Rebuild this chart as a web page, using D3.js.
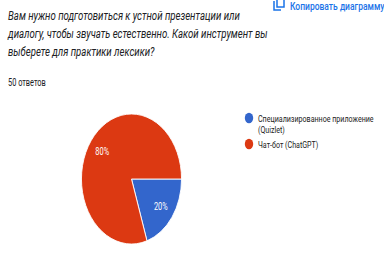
<!DOCTYPE html>
<html>
<head>
<meta charset="utf-8">
<script src="https://cdn.jsdelivr.net/npm/d3@7"></script>
<style>
  body { margin: 0; background: #fff; }
  text { font-family: Roboto, "Noto Sans", sans-serif; }
</style>
</head>
<body>
<div id="chart-area"></div>
<script>
// data
const titleLines = [
  'Вам нужно подготовиться к устной презентации или',
  'диалогу, чтобы звучать естественно. Какой инструмент вы',
  'выберете для практики лексики?'
];
const responsesLabel = '50 ответов';
const copyLabel = 'Копировать диаграмму';
const categories = ['Специализированное приложение (Quizlet)', 'Чат-бот (ChatGPT)'];
const legendLines = [['Специализированное приложение', '(Quizlet)'], ['Чат-бот (ChatGPT)']];
const values = [10, 40];
const colors = ['#3366cc', '#dc3912'];

const W = 384, H = 269;
const sx = 0.74; // the screenshot is squeezed horizontally

const svg = d3.select('#chart-area').append('svg')
  .attr('width', W).attr('height', H);
svg.append('rect').attr('width', W).attr('height', H).attr('fill', '#fff');

/* Title */
svg.selectAll('.title').data(titleLines).enter().append('text')
  .attr('class', 'title')
  .attr('transform', (d, i) => `translate(8, ${20 + i * 18}) scale(${sx},1)`)
  .attr('font-size', '13px')
  .attr('font-style', 'italic')
  .attr('fill', '#202124')
  .text(d => d);

svg.append('text')
  .attr('transform', `translate(8, 86) scale(${sx},1)`)
  .attr('font-size', '10px')
  .attr('fill', '#202124')
  .text(responsesLabel);

/* Copy button */
const copy = svg.append('g').attr('transform', 'translate(274, -2)');
copy.append('rect').attr('x', 3).attr('y', 0).attr('width', 7).attr('height', 9)
  .attr('fill', 'none').attr('stroke', '#1a73e8').attr('stroke-width', 1.5);
copy.append('path').attr('d', 'M0,3 V12 H7')
  .attr('fill', 'none').attr('stroke', '#1a73e8').attr('stroke-width', 1.5);
svg.append('text')
  .attr('transform', `translate(290, 9.5) scale(${sx},1)`)
  .attr('font-size', '11.5px')
  .attr('font-weight', 500)
  .attr('fill', '#1a73e8')
  .text(copyLabel);

/* Pie */
const r = 65;
const pie = d3.pie().sort(null).startAngle(Math.PI / 2).endAngle(Math.PI / 2 + 2 * Math.PI);
const arcs = pie(values);
const arc = d3.arc().innerRadius(0).outerRadius(r);
const labelArc = d3.arc().innerRadius(47).outerRadius(47);

const g = svg.append('g').attr('transform', `translate(131.5, 179) scale(0.77, 1)`);
g.selectAll('path').data(arcs).enter().append('path')
  .attr('d', arc)
  .attr('fill', (d, i) => colors[i])
  .attr('stroke', '#fff').attr('stroke-width', 1);

const total = d3.sum(values);
g.selectAll('.lbl').data(arcs).enter().append('text')
  .attr('class', 'lbl')
  .attr('transform', d => {
    const c = labelArc.centroid(d);
    return `translate(${c[0]}, ${c[1] + 3.5}) scale(${sx / 0.77},1)`;
  })
  .attr('text-anchor', 'middle')
  .attr('font-size', '10px')
  .attr('fill', '#fff')
  .text(d => Math.round(d.value / total * 100) + '%');

/* Legend */
const legend = svg.selectAll('.legend').data(legendLines).enter().append('g')
  .attr('class', 'legend')
  .attr('transform', (d, i) => `translate(249, ${118 + i * 26})`);
legend.append('ellipse').attr('rx', 4.2).attr('ry', 5.2)
  .attr('fill', (d, i) => colors[i]);
legend.each(function (lines) {
  d3.select(this).selectAll('text').data(lines).enter().append('text')
    .attr('transform', (d, j) => `translate(9, ${3.5 + j * 11}) scale(${sx},1)`)
    .attr('font-size', '9.6px')
    .attr('fill', '#222')
    .text(d => d);
});
</script>
</body>
</html>
